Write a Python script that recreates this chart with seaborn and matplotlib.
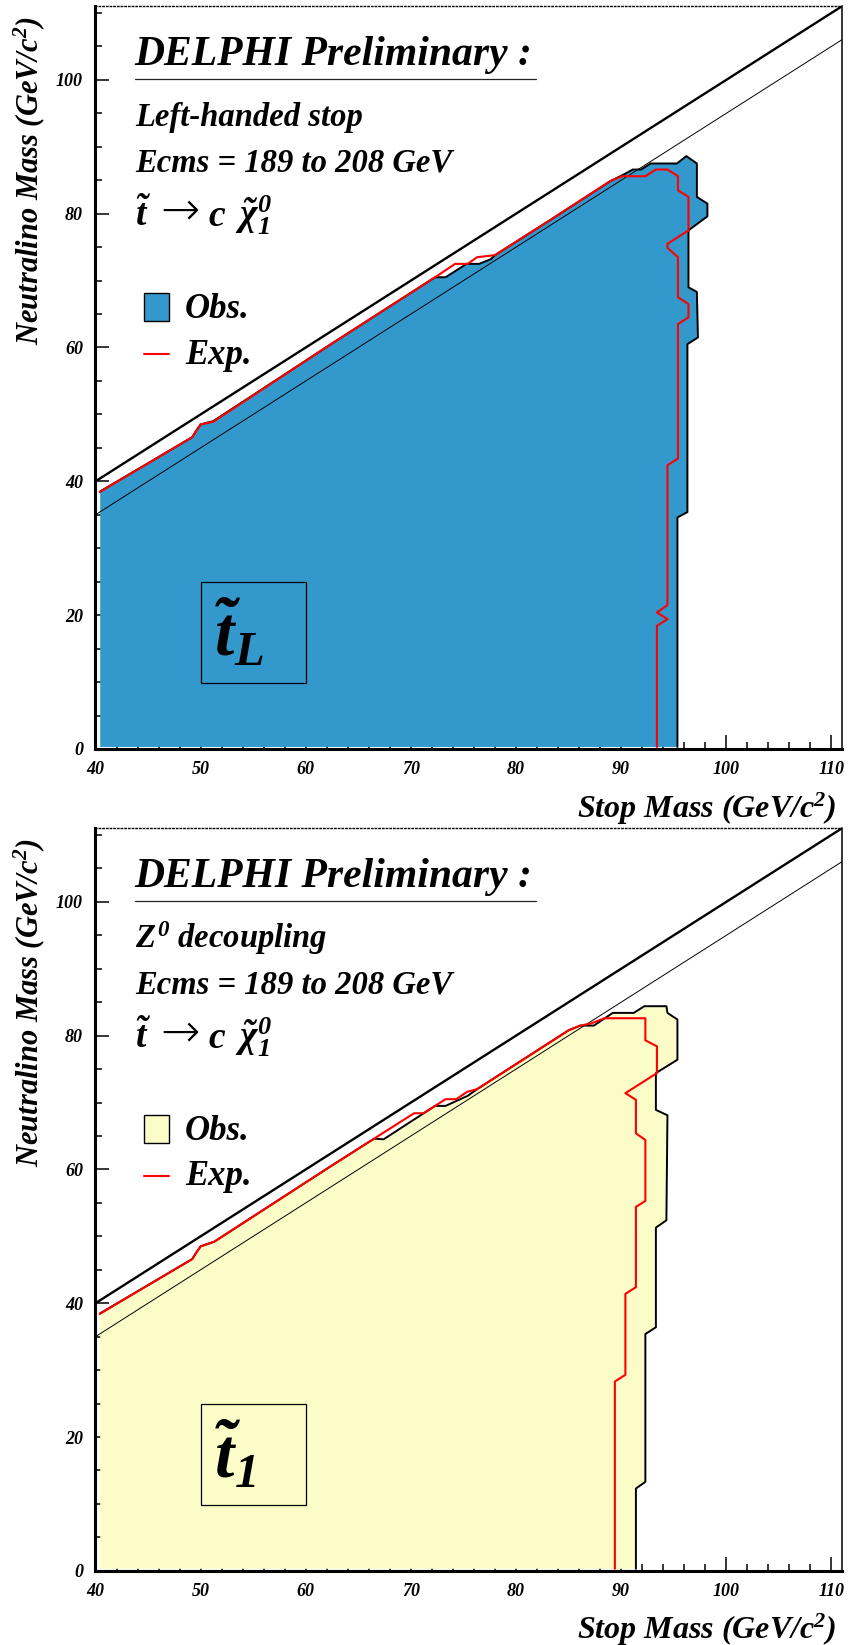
import matplotlib
matplotlib.use("Agg")
import matplotlib.pyplot as plt
import seaborn as sns
import pandas as pd
from matplotlib.patches import Rectangle
from matplotlib.lines import Line2D
from matplotlib.ticker import MultipleLocator

sns.set_style("ticks")
plt.rcParams['font.family'] = ['Liberation Serif', 'DejaVu Serif']
plt.rcParams['font.weight'] = 'bold'
plt.rcParams['font.style'] = 'italic'
plt.rcParams['mathtext.fontset'] = 'custom'
plt.rcParams['mathtext.rm'] = 'Liberation Serif:bold:italic'
plt.rcParams['mathtext.it'] = 'Liberation Serif:bold:italic'
plt.rcParams['mathtext.bf'] = 'Liberation Serif:bold:italic'
for k in ['text.color', 'axes.edgecolor', 'xtick.color', 'ytick.color', 'axes.labelcolor']:
    plt.rcParams[k] = 'black'

# kinematic limits
kin_x = [40, 111]
kin_y = [40, 111]
thin_y = [35, 106]

# left-handed stop: observed excluded region (outline) and expected limit
obs_L_x = [40.45, 40.45, 49.2, 49.6, 50.0, 51.2, 62.3, 72.3, 73.3, 75.3, 76.5, 77.6, 78.0, 83.3, 89.0,
           90.3, 91.1, 91.9, 92.8, 95.3, 96.2, 97.2, 97.2, 98.2, 98.2, 96.4, 96.4, 97.2, 97.3, 96.3,
           96.3, 95.35, 95.35]
obs_L_y = [0.3, 38.5, 46.6, 47.6, 48.5, 49.0, 60.4, 70.5, 70.5, 72.5, 72.5, 73.2, 73.8, 79.1, 84.9,
           85.9, 86.6, 86.6, 87.5, 87.5, 88.6, 87.5, 82.5, 81.5, 79.6, 77.5, 69.0, 68.3, 61.5, 60.5,
           35.4, 34.6, 0.3]
exp_L_x = [40.4, 49.2, 49.6, 50.0, 51.2, 62.3, 72.3, 74.2, 75.4, 76.3, 78.0, 83.3, 89.0, 90.1, 92.3,
           93.3, 94.4, 95.4, 95.4, 96.4, 96.4, 94.4, 94.4, 95.4, 95.4, 96.4, 96.4, 95.4, 95.4, 94.4,
           94.4, 93.4, 94.4, 93.4, 93.4]
exp_L_y = [38.4, 46.6, 47.6, 48.5, 48.9, 60.4, 70.5, 72.5, 72.5, 73.5, 73.8, 79.1, 84.9, 85.6, 85.6,
           86.6, 86.6, 85.6, 83.5, 82.5, 77.5, 75.5, 74.9, 73.5, 67.5, 66.5, 64.5, 63.5, 43.4, 42.4,
           21.5, 20.4, 19.4, 18.4, 0.3]

# Z0 decoupling: observed excluded region (outline) and expected limit
obs_1_x = [40.45, 40.45, 49.2, 49.6, 50.0, 51.3, 62.3, 66.5, 67.4, 72.3, 73.3, 75.4, 76.3, 85.0, 86.1,
           87.4, 89.2, 91.2, 92.2, 94.3, 94.4, 95.35, 95.35, 93.3, 93.3, 94.4, 94.3, 93.3, 93.3, 92.3,
           92.3, 91.4, 91.4]
obs_1_y = [0.3, 38.5, 46.6, 47.6, 48.5, 49.2, 60.4, 64.6, 64.5, 69.5, 69.5, 71.0, 72.0, 80.8, 81.5,
           81.5, 83.4, 83.4, 84.4, 84.4, 83.4, 82.4, 76.4, 74.4, 68.9, 68.1, 52.4, 51.3, 36.4, 35.4,
           13.3, 12.3, 0.3]
exp_1_x = [40.4, 49.2, 49.6, 50.0, 51.3, 62.3, 66.5, 70.3, 71.2, 73.3, 74.3, 75.35, 76.3, 85.0, 86.1,
           87.1, 88.4, 92.3, 92.3, 93.4, 93.4, 90.4, 91.4, 91.4, 92.3, 92.3, 91.4, 91.4, 90.4, 90.4,
           89.4, 89.4]
exp_1_y = [38.4, 46.6, 47.6, 48.5, 49.2, 60.4, 64.6, 68.4, 68.4, 70.5, 70.5, 71.6, 72.0, 80.8, 81.5,
           81.8, 82.6, 82.6, 79.3, 78.4, 74.4, 71.4, 70.4, 65.4, 64.4, 55.3, 54.4, 42.4, 41.4, 29.3,
           28.3, 0.3]

fig = plt.figure(figsize=(8.48, 16.45), dpi=100)
ax_top = fig.add_axes([0.1126, 0.5447, 0.8803, 0.4515])
ax_bot = fig.add_axes([0.1126, 0.0451, 0.8803, 0.4514])


def draw_panel(ax, ox, oy, ex, ey, fill_color, line2, label):
    ax.fill(ox, oy, color=fill_color, lw=0, zorder=1)
    sns.lineplot(x=ox[1:], y=oy[1:], sort=False, estimator=None, color='black', lw=1.4, ax=ax, zorder=2)
    sns.lineplot(x=kin_x, y=kin_y, sort=False, estimator=None, color='black', lw=1.7, ax=ax, zorder=3)
    sns.lineplot(x=kin_x, y=thin_y, sort=False, estimator=None, color='black', lw=0.7, ax=ax, zorder=3)
    sns.lineplot(x=ex, y=ey, sort=False, estimator=None, color='#ff0000', lw=1.5, ax=ax, zorder=4)

    ax.set_xlim(40, 111)
    ax.set_ylim(0, 111)
    ax.xaxis.set_major_locator(MultipleLocator(10))
    ax.xaxis.set_minor_locator(MultipleLocator(2))
    ax.yaxis.set_major_locator(MultipleLocator(20))
    ax.yaxis.set_minor_locator(MultipleLocator(5))
    ax.tick_params(which='both', direction='in', top=False, right=False, width=1.1, labelsize=13)
    ax.tick_params(which='major', length=10)
    ax.tick_params(which='minor', length=5)
    ax.tick_params(axis='x', pad=9)
    ax.tick_params(axis='y', pad=9)
    for s in ['left', 'bottom']:
        ax.spines[s].set_linewidth(2.2)
    ax.spines['right'].set_linewidth(1.1)
    ax.spines['top'].set_linewidth(1.0)
    ax.spines['top'].set_linestyle(':')
    ax.set_xlabel('')
    ax.set_ylabel('')

    ax.text(43.74, 102.2, 'DELPHI Preliminary :', fontsize=30, va='baseline', zorder=5)
    ax.add_line(Line2D([43.74, 81.9], [100.1, 100.1], color='#222222', lw=0.9))
    ax.text(43.74, 93.1, line2, fontsize=23.5, va='baseline')
    ax.text(43.74, 86.3, 'Ecms = 189 to 208 GeV', fontsize=23.5, va='baseline')
    # decay: t~ -> c chi~0_1
    ax.text(43.74, 78.1, r'$\tilde{t}$', fontsize=27, va='baseline')
    ax.text(46.2, 78.4, '\u2192', fontsize=34, va='baseline', family='DejaVu Sans',
            fontweight='light', fontstyle='normal')
    ax.text(50.7, 78.1, 'c', fontsize=27, va='baseline')
    ax.text(53.3, 78.1, r'$\tilde{\chi}^{0}_{1}$', fontsize=27, va='baseline')

    ax.add_patch(Rectangle((44.6, 63.9), 2.35, 4.2, facecolor=fill_color, edgecolor='black', lw=1.0, zorder=5))
    ax.text(48.5, 64.4, 'Obs.', fontsize=25, va='baseline')
    ax.add_line(Line2D([44.6, 46.95], [59.0, 59.0], color='#ff0000', lw=1.5))
    ax.text(48.5, 57.6, 'Exp.', fontsize=25, va='baseline')

    ax.add_patch(Rectangle((50, 9.8), 10, 15.1, fill=False, edgecolor='black', lw=0.9, zorder=5))
    ax.text(51.3, 13.8, label, fontsize=50, va='baseline', zorder=5)


draw_panel(ax_top, obs_L_x, obs_L_y, exp_L_x, exp_L_y, '#3399cc', 'Left-handed stop', r'$\tilde{t}_{L}$')
draw_panel(ax_bot, obs_1_x, obs_1_y, exp_1_x, exp_1_y, '#fcfcc8', r'$Z^{0}$ decoupling', r'$\tilde{t}_{1}$')

ylab = r'Neutralino Mass (GeV/c$^{2}$)'
xlab = r'Stop Mass (GeV/c$^{2}$)'
fig.text(0.0347, 0.9905, ylab, rotation=90, ha='center', va='top', fontsize=22)
fig.text(0.0347, 0.4908, ylab, rotation=90, ha='center', va='top', fontsize=22)
fig.text(0.9858, 0.5026, xlab, ha='right', va='baseline', fontsize=23)
fig.text(0.9858, 0.0035, xlab, ha='right', va='baseline', fontsize=23)

fig.savefig('out.png', dpi=100)
